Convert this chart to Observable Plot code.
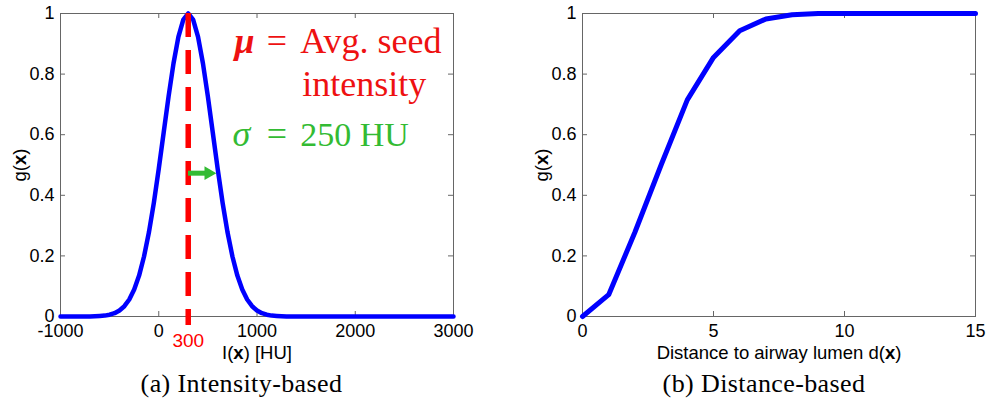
<!DOCTYPE html>
<html><head><meta charset="utf-8">
<script src="https://cdn.jsdelivr.net/npm/d3@7"></script>
<script src="https://cdn.jsdelivr.net/npm/@observablehq/plot@0.6"></script>
<style>
body{margin:0;background:#fff;}
#wrap{position:relative;width:987px;height:403px;overflow:hidden;background:#fff;}
.panel{position:absolute;top:0;}
.cap{position:absolute;top:371px;font-family:"Liberation Serif","Times New Roman",serif;font-size:26px;line-height:26px;letter-spacing:0.4px;text-align:center;color:#000;white-space:nowrap;}
</style></head><body>
<div id="wrap">
  <div id="a" class="panel" style="left:0"></div>
  <div id="b" class="panel" style="left:520px"></div>
  <div class="cap" style="left:0;width:483px">(a) Intensity-based</div>
  <div class="cap" style="left:564px;width:400px">(b) Distance-based</div>
</div>
<script>
// ---- data ----
const yTicks = [0, 0.2, 0.4, 0.6, 0.8, 1];
const huTicks = [-1000, 0, 1000, 2000, 3000];
const distTicks = [0, 5, 10, 15];

const intensityHU = [-1000, -900, -800, -700, -600, -550, -500, -450, -400, -350, -300, -250, -200, -150, -100, -50, 0, 50, 100, 150, 200, 250, 300, 350, 400, 450, 500, 550, 600, 650, 700, 750, 800, 850, 900, 950, 1000, 1050, 1100, 1150, 1200, 1300, 1500, 2000, 2500, 3000];
const gIntensity  = [0, 0, 0, 0, 0.002, 0.003, 0.006, 0.011, 0.020, 0.034, 0.056, 0.089, 0.135, 0.198, 0.278, 0.375, 0.487, 0.607, 0.726, 0.835, 0.923, 0.980, 1, 0.980, 0.923, 0.835, 0.726, 0.607, 0.487, 0.375, 0.278, 0.198, 0.135, 0.089, 0.056, 0.034, 0.020, 0.011, 0.006, 0.003, 0.002, 0, 0, 0, 0, 0];
const seedMean = [300];

const distance  = [0, 1, 2, 3, 4, 5, 6, 7, 8, 9, 10, 11, 12, 13, 14, 15];
const gDistance = [0, 0.072, 0.278, 0.5, 0.715, 0.855, 0.943, 0.982, 0.996, 1, 1, 1, 1, 1, 1, 1];

// ---- styles ----
const sans = "'Liberation Sans', Arial, sans-serif";
const serif = "'Liberation Serif', 'Times New Roman', serif";
const frameColor = "#666";
const blue = "#0000ff";
const red = "#f00";
const redText = "#ee1111";
const green = "#33bb33";
const frameW = 393, frameH = 303, tick = 5;

const intensityData = intensityHU.map((x, i) => ({x, g: gIntensity[i]}));
const distanceData = distance.map((x, i) => ({x, g: gDistance[i]}));

function boxAxes(xt) {
  const tk = {stroke: frameColor, strokeWidth: 1};
  return [
    Plot.frame({stroke: frameColor}),
    // inward ticks on all four sides
    Plot.tickX(xt, {x: d => d, insetTop: frameH - tick, ...tk}),
    Plot.tickX(xt, {x: d => d, insetBottom: frameH - tick, ...tk}),
    Plot.tickY(yTicks, {y: d => d, insetRight: frameW - tick, ...tk}),
    Plot.tickY(yTicks, {y: d => d, insetLeft: frameW - tick, ...tk}),
    Plot.axisX(xt, {anchor: "bottom", tickSize: 0, tickPadding: 8, tickFormat: d => String(d), label: null, fontSize: 18, fill: "#000"}),
    Plot.axisY(yTicks, {anchor: "left", tickSize: 0, tickPadding: 6, tickFormat: d => String(d), label: null, fontSize: 18, fill: "#000"}),
    Plot.text(["g(x)"], {frameAnchor: "left", dx: -40, rotate: -90, textAnchor: "middle", lineAnchor: "middle", fontSize: 18.5, fill: "#000"})
  ];
}

function richX(svg) {
  d3.select(svg).selectAll("text").each(function () {
    const t = this.textContent;
    const i = t.indexOf("(x)");
    if (i < 0) return;
    const parts = [[t.slice(0, i + 1), "normal"], ["x", "bold"], [t.slice(i + 2), "normal"]];
    this.textContent = "";
    for (const [s, w] of parts) {
      const ts = document.createElementNS("http://www.w3.org/2000/svg", "tspan");
      ts.setAttribute("font-weight", w);
      ts.textContent = s;
      this.appendChild(ts);
    }
  });
}

const common = {
  height: 362, marginTop: 13, marginBottom: 46,
  y: {domain: [0, 1]},
  style: {fontFamily: sans, fontSize: "18px", background: "transparent", color: "#000", overflow: "visible"}
};

const ann = {lineAnchor: "bottom", textAnchor: "start", fontFamily: serif, fontSize: 36};

const left = Plot.plot({
  ...common,
  width: 470, marginLeft: 60, marginRight: 17,
  x: {domain: [-1000, 3000]},
  marks: [
    ...boxAxes(huTicks),
    Plot.text(["I(x) [HU]"], {frameAnchor: "bottom", dy: 29, lineAnchor: "top", textAnchor: "middle", fontSize: 18.5, fill: "#000"}),
    Plot.line(intensityData, {x: "x", y: "g", stroke: blue, strokeWidth: 4.5}),
    Plot.ruleX(seedMean, {x: d => d, y1: 1, y2: -0.03, stroke: red, strokeWidth: 5.5, strokeDasharray: "24,13", strokeLinecap: "butt"}),
    Plot.text(seedMean, {x: d => d, frameAnchor: "bottom", dy: 17, lineAnchor: "top", text: d => String(d), fill: red, fontSize: 19}),
    Plot.ruleY([0.473], {x1: 303, x2: 480, stroke: green, strokeWidth: 5}),
    Plot.dot([0.473], {x: 506, y: d => d, symbol: "triangle", r: 5.1, rotate: 90, fill: green, stroke: "none"}),
    // annotations
    Plot.text(["μ"], {...ann, x: 770, y: 0.868, fontStyle: "italic", fontWeight: "bold", fill: redText}),
    Plot.text(["="], {...ann, x: 1100, y: 0.868, fill: redText}),
    Plot.text(["Avg. seed"], {...ann, x: 1440, y: 0.868, fill: redText}),
    Plot.text(["intensity"], {...ann, x: 1460, y: 0.729, fill: redText}),
    Plot.text(["σ"], {...ann, x: 750, y: 0.564, fontStyle: "italic", fill: green}),
    Plot.text(["="], {...ann, x: 1100, y: 0.564, fill: green}),
    Plot.text(["250 HU"], {...ann, x: 1440, y: 0.564, fontSize: 34, fill: green})
  ]
});
richX(left);
document.getElementById("a").appendChild(left);

const right = Plot.plot({
  ...common,
  width: 467, marginLeft: 62, marginRight: 12,
  x: {domain: [0, 15]},
  marks: [
    ...boxAxes(distTicks),
    Plot.text(["Distance to airway lumen d(x)"], {frameAnchor: "bottom", dy: 29, lineAnchor: "top", textAnchor: "middle", fontSize: 18.5, fill: "#000"}),
    Plot.line(distanceData, {x: "x", y: "g", stroke: blue, strokeWidth: 5})
  ]
});
richX(right);
document.getElementById("b").appendChild(right);
</script>
</body></html>
